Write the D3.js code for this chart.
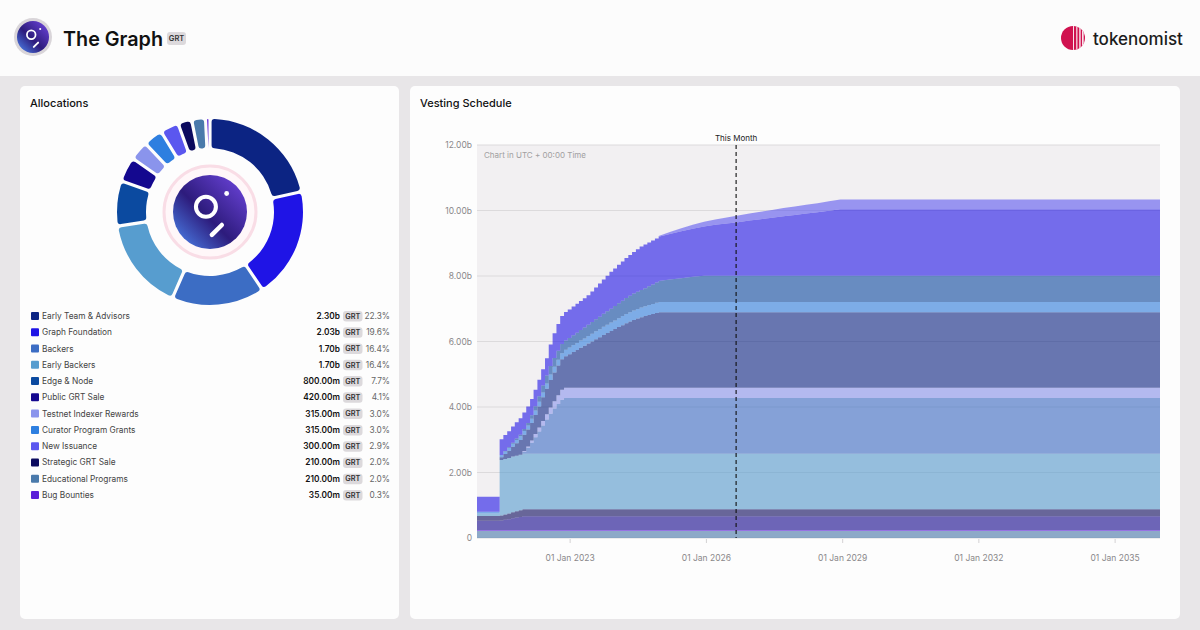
<!DOCTYPE html>
<html>
<head>
<meta charset="utf-8">
<script src="https://cdn.jsdelivr.net/npm/d3@7"></script>
<style>
  html, body { margin: 0; padding: 0; background: #e8e6e8; }
  svg { display: block; font-family: Inter, "Noto Sans", sans-serif; }
</style>
</head>
<body>
<div id="chart"></div>
<script>
// allocations (billions of GRT)
const allocNames = ["Early Team & Advisors", "Graph Foundation", "Backers", "Early Backers", "Edge & Node",
  "Public GRT Sale", "Testnet Indexer Rewards", "Curator Program Grants", "New Issuance",
  "Strategic GRT Sale", "Educational Programs", "Bug Bounties"];
const allocValues = [2.30, 2.03, 1.70, 1.70, 0.80, 0.42, 0.315, 0.315, 0.30, 0.21, 0.21, 0.035];
const allocPercents = [22.3, 19.6, 16.4, 16.4, 7.7, 4.1, 3.0, 3.0, 2.9, 2.0, 2.0, 0.3];

// vesting schedule: dates (monthly in the ramp, quarterly later) and cumulative unlocked, billions
const dates = ["2020-12-17",
  "2021-06-17", "2021-07-17", "2021-08-17", "2021-09-17", "2021-10-17", "2021-11-17", "2021-12-17",
  "2022-01-17", "2022-02-17", "2022-03-17", "2022-04-17", "2022-05-17", "2022-06-17", "2022-07-17", "2022-08-17", "2022-09-17", "2022-10-17", "2022-11-17", "2022-12-17",
  "2023-01-17", "2023-02-17", "2023-03-17", "2023-04-17", "2023-05-17", "2023-06-17", "2023-07-17", "2023-08-17", "2023-09-17", "2023-10-17", "2023-11-17", "2023-12-17",
  "2024-01-17", "2024-02-17", "2024-03-17", "2024-04-17", "2024-05-17", "2024-06-17", "2024-07-17", "2024-08-17", "2024-09-17", "2024-10-17", "2024-11-17", "2024-12-17",
  "2025-03-17", "2025-06-17", "2025-09-17", "2025-12-17", "2026-03-17", "2026-06-17", "2026-09-17", "2026-12-17",
  "2027-03-17", "2027-06-17", "2027-09-17", "2027-12-17", "2028-03-17", "2028-06-17", "2028-09-17", "2028-12-17",
  "2036-01-01"];

const educationalPrograms = [0.21,
  0.21, 0.21, 0.21, 0.21, 0.21, 0.21, 0.21,
  0.21, 0.21, 0.21, 0.21, 0.21, 0.21, 0.21, 0.21, 0.21, 0.21, 0.21, 0.21,
  0.21, 0.21, 0.21, 0.21, 0.21, 0.21, 0.21, 0.21, 0.21, 0.21, 0.21, 0.21,
  0.21, 0.21, 0.21, 0.21, 0.21, 0.21, 0.21, 0.21, 0.21, 0.21, 0.21, 0.21,
  0.21, 0.21, 0.21, 0.21, 0.21, 0.21, 0.21, 0.21, 0.21, 0.21, 0.21, 0.21, 0.21, 0.21, 0.21, 0.21,
  0.21];
const bugBounties = [0.035,
  0.035, 0.035, 0.035, 0.035, 0.035, 0.035, 0.035,
  0.035, 0.035, 0.035, 0.035, 0.035, 0.035, 0.035, 0.035, 0.035, 0.035, 0.035, 0.035,
  0.035, 0.035, 0.035, 0.035, 0.035, 0.035, 0.035, 0.035, 0.035, 0.035, 0.035, 0.035,
  0.035, 0.035, 0.035, 0.035, 0.035, 0.035, 0.035, 0.035, 0.035, 0.035, 0.035, 0.035,
  0.035, 0.035, 0.035, 0.035, 0.035, 0.035, 0.035, 0.035, 0.035, 0.035, 0.035, 0.035, 0.035, 0.035, 0.035, 0.035,
  0.035];
const publicSale = [0.285,
  0.29, 0.31, 0.33, 0.36, 0.38, 0.40, 0.42,
  0.42, 0.42, 0.42, 0.42, 0.42, 0.42, 0.42, 0.42, 0.42, 0.42, 0.42, 0.42,
  0.42, 0.42, 0.42, 0.42, 0.42, 0.42, 0.42, 0.42, 0.42, 0.42, 0.42, 0.42,
  0.42, 0.42, 0.42, 0.42, 0.42, 0.42, 0.42, 0.42, 0.42, 0.42, 0.42, 0.42,
  0.42, 0.42, 0.42, 0.42, 0.42, 0.42, 0.42, 0.42, 0.42, 0.42, 0.42, 0.42, 0.42, 0.42, 0.42, 0.42,
  0.42];
const strategicSale = [0.14,
  0.15, 0.16, 0.17, 0.18, 0.19, 0.20, 0.21,
  0.21, 0.21, 0.21, 0.21, 0.21, 0.21, 0.21, 0.21, 0.21, 0.21, 0.21, 0.21,
  0.21, 0.21, 0.21, 0.21, 0.21, 0.21, 0.21, 0.21, 0.21, 0.21, 0.21, 0.21,
  0.21, 0.21, 0.21, 0.21, 0.21, 0.21, 0.21, 0.21, 0.21, 0.21, 0.21, 0.21,
  0.21, 0.21, 0.21, 0.21, 0.21, 0.21, 0.21, 0.21, 0.21, 0.21, 0.21, 0.21, 0.21, 0.21, 0.21, 0.21,
  0.21];
const earlyBackers = [0.08,
  1.70, 1.70, 1.70, 1.70, 1.70, 1.70, 1.70,
  1.70, 1.70, 1.70, 1.70, 1.70, 1.70, 1.70, 1.70, 1.70, 1.70, 1.70, 1.70,
  1.70, 1.70, 1.70, 1.70, 1.70, 1.70, 1.70, 1.70, 1.70, 1.70, 1.70, 1.70,
  1.70, 1.70, 1.70, 1.70, 1.70, 1.70, 1.70, 1.70, 1.70, 1.70, 1.70, 1.70,
  1.70, 1.70, 1.70, 1.70, 1.70, 1.70, 1.70, 1.70, 1.70, 1.70, 1.70, 1.70, 1.70, 1.70, 1.70, 1.70,
  1.70];
const backers = [0,
  0, 0, 0, 0, 0, 0, 0.06,
  0.18, 0.33, 0.50, 0.68, 0.86, 1.04, 1.22, 1.38, 1.52, 1.65, 1.70, 1.70,
  1.70, 1.70, 1.70, 1.70, 1.70, 1.70, 1.70, 1.70, 1.70, 1.70, 1.70, 1.70,
  1.70, 1.70, 1.70, 1.70, 1.70, 1.70, 1.70, 1.70, 1.70, 1.70, 1.70, 1.70,
  1.70, 1.70, 1.70, 1.70, 1.70, 1.70, 1.70, 1.70, 1.70, 1.70, 1.70, 1.70, 1.70, 1.70, 1.70, 1.70,
  1.70];
const testnetRewards = [0,
  0, 0, 0, 0, 0, 0, 0.02,
  0.04, 0.07, 0.10, 0.12, 0.14, 0.16, 0.19, 0.22, 0.26, 0.30, 0.315, 0.315,
  0.315, 0.315, 0.315, 0.315, 0.315, 0.315, 0.315, 0.315, 0.315, 0.315, 0.315, 0.315,
  0.315, 0.315, 0.315, 0.315, 0.315, 0.315, 0.315, 0.315, 0.315, 0.315, 0.315, 0.315,
  0.315, 0.315, 0.315, 0.315, 0.315, 0.315, 0.315, 0.315, 0.315, 0.315, 0.315, 0.315, 0.315, 0.315, 0.315, 0.315,
  0.315];
const earlyTeam = [0,
  0.08, 0.15, 0.22, 0.30, 0.38, 0.45, 0.50,
  0.52, 0.54, 0.58, 0.64, 0.72, 0.78, 0.84, 0.88, 0.91, 0.93, 0.96, 1.02,
  1.09, 1.15, 1.22, 1.28, 1.35, 1.41, 1.48, 1.54, 1.61, 1.67, 1.73, 1.79,
  1.85, 1.91, 1.97, 2.02, 2.07, 2.11, 2.15, 2.19, 2.22, 2.25, 2.28, 2.30,
  2.30, 2.30, 2.30, 2.30, 2.30, 2.30, 2.30, 2.30, 2.30, 2.30, 2.30, 2.30, 2.30, 2.30, 2.30, 2.30,
  2.30];
const curatorGrants = [0.05,
  0.07, 0.08, 0.085, 0.09, 0.10, 0.11, 0.115,
  0.12, 0.13, 0.14, 0.145, 0.15, 0.16, 0.17, 0.175, 0.18, 0.19, 0.20, 0.205,
  0.21, 0.215, 0.22, 0.225, 0.23, 0.235, 0.24, 0.245, 0.25, 0.255, 0.26, 0.265,
  0.27, 0.275, 0.28, 0.284, 0.288, 0.292, 0.296, 0.30, 0.304, 0.308, 0.312, 0.315,
  0.315, 0.315, 0.315, 0.315, 0.315, 0.315, 0.315, 0.315, 0.315, 0.315, 0.315, 0.315, 0.315, 0.315, 0.315, 0.315,
  0.315];
const edgeNode = [0,
  0, 0.01, 0.02, 0.03, 0.04, 0.05, 0.06,
  0.08, 0.10, 0.13, 0.17, 0.21, 0.25, 0.26, 0.27, 0.27, 0.28, 0.28, 0.29,
  0.30, 0.31, 0.32, 0.33, 0.345, 0.36, 0.37, 0.38, 0.395, 0.41, 0.42, 0.44,
  0.455, 0.47, 0.49, 0.505, 0.515, 0.525, 0.535, 0.545, 0.57, 0.595, 0.62, 0.645,
  0.69, 0.73, 0.77, 0.80, 0.80, 0.80, 0.80, 0.80, 0.80, 0.80, 0.80, 0.80, 0.80, 0.80, 0.80, 0.80,
  0.80];
const graphFoundation = [0.46,
  0.48, 0.49, 0.49, 0.50, 0.50, 0.50, 0.50,
  0.50, 0.50, 0.50, 0.50, 0.50, 0.52, 0.65, 0.75, 0.82, 0.85, 0.87, 0.875,
  0.88, 0.885, 0.89, 0.895, 0.90, 0.935, 0.97, 1.015, 1.045, 1.085, 1.13, 1.145,
  1.175, 1.195, 1.22, 1.24, 1.267, 1.30, 1.33, 1.335, 1.34, 1.34, 1.345, 1.35,
  1.39, 1.43, 1.47, 1.51, 1.56, 1.60, 1.64, 1.69, 1.73, 1.77, 1.82, 1.86, 1.90, 1.94, 1.99, 2.03,
  2.03];
const newIssuance = [0,
  0, 0, 0, 0, 0, 0, 0,
  0, 0, 0, 0, 0, 0, 0, 0, 0, 0, 0, 0,
  0, 0, 0, 0, 0, 0, 0, 0, 0, 0, 0, 0,
  0, 0, 0, 0, 0, 0, 0, 0, 0, 0, 0, 0.02,
  0.06, 0.09, 0.12, 0.14, 0.16, 0.18, 0.20, 0.215, 0.23, 0.24, 0.25, 0.26, 0.27, 0.28, 0.29, 0.30,
  0.30];

const yTicks = [0, 2, 4, 6, 8, 10, 12];
const xTickYears = [2023, 2026, 2029, 2032, 2035];
const thisMonth = "2026-09-01";
const lastMonthlyDate = "2024-12-17"; // monthly steps up to here, smooth after

// colours and stacking order (bottom to top)
const colors = {
  "Early Team & Advisors": "#0c2483", "Graph Foundation": "#1f14e6", "Backers": "#3c6dc4",
  "Early Backers": "#579dcf", "Edge & Node": "#0b4aa0", "Public GRT Sale": "#14088f",
  "Testnet Indexer Rewards": "#8a94ec", "Curator Program Grants": "#2e7fe0", "New Issuance": "#5b57ef",
  "Strategic GRT Sale": "#0b0a5e", "Educational Programs": "#4a7aab", "Bug Bounties": "#5b1fd8"
};
const stackSeries = [
  ["Educational Programs", educationalPrograms], ["Bug Bounties", bugBounties],
  ["Public GRT Sale", publicSale], ["Strategic GRT Sale", strategicSale],
  ["Early Backers", earlyBackers], ["Backers", backers],
  ["Testnet Indexer Rewards", testnetRewards], ["Early Team & Advisors", earlyTeam],
  ["Curator Program Grants", curatorGrants], ["Edge & Node", edgeNode],
  ["Graph Foundation", graphFoundation], ["New Issuance", newIssuance]
];

// step-after curve up to cutX, straight segments after it
function stepThenLinear(cutX) {
  return function (context) {
    return {
      _t: 1,
      areaStart() { this._line = 0; },
      areaEnd() { this._line = NaN; },
      lineStart() { this._x = this._y = NaN; this._point = 0; },
      lineEnd() {
        if (this._line || (this._line !== 0 && this._point === 1)) context.closePath();
        if (this._line >= 0) { this._t = 1 - this._t; this._line = 1 - this._line; }
      },
      point(x, y) {
        x = +x; y = +y;
        if (this._point === 0) {
          this._point = 1;
          this._line ? context.lineTo(x, y) : context.moveTo(x, y);
        } else {
          this._point = 2;
          if (Math.max(this._x, x) > cutX + 0.5) {
            context.lineTo(x, y);
          } else if (this._t <= 0) {
            context.lineTo(this._x, y);
            context.lineTo(x, y);
          } else {
            context.lineTo(x, this._y);
            context.lineTo(x, y);
          }
        }
        this._x = x; this._y = y;
      }
    };
  };
}

const W = 1200, H = 630;
const svg = d3.select('#chart').append('svg').attr('width', W).attr('height', H);
const defs = svg.append('defs');

const grad = defs.append('linearGradient').attr('id', 'grtGrad')
  .attr('x1', '0').attr('y1', '1').attr('x2', '1').attr('y2', '0');
grad.append('stop').attr('offset', '0%').attr('stop-color', '#4f8cf5');
grad.append('stop').attr('offset', '45%').attr('stop-color', '#2d1b7c');
grad.append('stop').attr('offset', '100%').attr('stop-color', '#7248e4');

// background, header, panels
svg.append('rect').attr('width', W).attr('height', H).attr('fill', '#e8e6e8');
svg.append('rect').attr('width', W).attr('height', 76).attr('fill', '#fcfcfc');
svg.append('rect').attr('x', 20).attr('y', 86).attr('width', 379).attr('height', 533).attr('rx', 5).attr('fill', '#fdfdfd');
svg.append('rect').attr('x', 410).attr('y', 86).attr('width', 770).attr('height', 533).attr('rx', 5).attr('fill', '#fdfdfd');

function drawGraphLogo(g, cx, cy, r) {
  g.append('circle').attr('cx', cx).attr('cy', cy).attr('r', r).attr('fill', 'url(#grtGrad)');
  g.append('circle').attr('cx', cx - 0.11 * r).attr('cy', cy - 0.14 * r).attr('r', 0.27 * r)
    .attr('fill', 'none').attr('stroke', '#fff').attr('stroke-width', 0.11 * r);
  g.append('circle').attr('cx', cx + 0.45 * r).attr('cy', cy - 0.5 * r).attr('r', 0.065 * r).attr('fill', '#fff');
  g.append('line').attr('x1', cx + 0.05 * r).attr('y1', cy + 0.62 * r).attr('x2', cx + 0.32 * r).attr('y2', cy + 0.35 * r)
    .attr('stroke', '#fff').attr('stroke-width', 0.12 * r).attr('stroke-linecap', 'round');
}

// fit a text to a given width by adjusting its font size
function fitWidth(textSel, baseSize, width) {
  const w = textSel.node().getComputedTextLength();
  textSel.attr('font-size', baseSize * width / w);
}

// header
svg.append('circle').attr('cx', 33).attr('cy', 37).attr('r', 19).attr('fill', '#d9d5d9');
drawGraphLogo(svg.append('g'), 33, 37, 16);
const title = svg.append('text').attr('x', 63).attr('y', 46).attr('font-size', 22).attr('font-weight', 600)
  .attr('fill', '#111').text('The Graph');
fitWidth(title, 22, 100);
svg.append('rect').attr('x', 167).attr('y', 32).attr('width', 19).attr('height', 13).attr('rx', 3).attr('fill', '#dcd9dc');
svg.append('text').attr('x', 176.5).attr('y', 41.3).attr('text-anchor', 'middle').attr('font-size', 7.5).attr('font-weight', 600).attr('fill', '#333').text('GRT');

// tokenomist mark
const tk = svg.append('g');
defs.append('clipPath').attr('id', 'tkClip').append('circle').attr('cx', 1073).attr('cy', 38).attr('r', 12);
const tkc = tk.append('g').attr('clip-path', 'url(#tkClip)');
tkc.append('rect').attr('x', 1061).attr('y', 26).attr('width', 24).attr('height', 24).attr('fill', '#d0124f');
[1073, 1076.3, 1079.3, 1082.1].forEach((gx, i) => {
  tkc.append('rect').attr('x', gx).attr('y', 26).attr('width', 0.9 + i * 0.2).attr('height', 24).attr('fill', '#fcfcfc');
});
const tkText = tk.append('text').attr('x', 1093).attr('y', 45).attr('font-size', 19).attr('font-weight', 500)
  .attr('fill', '#1c1c1c').text('tokenomist');
fitWidth(tkText, 19, 90);

// panel titles
svg.append('text').attr('x', 30).attr('y', 107).attr('font-size', 11).attr('font-weight', 500).attr('fill', '#111').text('Allocations');
svg.append('text').attr('x', 420).attr('y', 107).attr('font-size', 11).attr('font-weight', 500).attr('fill', '#111').text('Vesting Schedule');

// donut
const allocData = allocNames.map((name, i) => ({ name, value: allocValues[i], pct: allocPercents[i] }));
const pie = d3.pie().sort(null).value(d => d.value).padAngle(0.028);
const arc = d3.arc().innerRadius(64).outerRadius(93).cornerRadius(3);
const donut = svg.append('g').attr('transform', 'translate(210,212)');
donut.selectAll('path').data(pie(allocData)).enter().append('path')
  .attr('d', arc).attr('fill', d => colors[d.data.name]);
donut.append('circle').attr('r', 46).attr('fill', '#fff7f9').attr('stroke', '#f9dde6').attr('stroke-width', 3);
drawGraphLogo(donut, 0, 0, 37);

// legend
const legend = svg.append('g');
const fmtAmount = v => v >= 1 ? v.toFixed(2) + 'b' : (v * 1000).toFixed(2) + 'm';
allocData.forEach((d, i) => {
  const cy = 316 + i * 16.27;
  legend.append('rect').attr('x', 31).attr('y', cy - 4).attr('width', 8).attr('height', 8).attr('rx', 1).attr('fill', colors[d.name]);
  legend.append('text').attr('x', 42).attr('y', cy + 3).attr('font-size', 8.3).attr('fill', '#444').text(d.name);
  legend.append('text').attr('x', 340).attr('y', cy + 3).attr('text-anchor', 'end').attr('font-size', 8.3)
    .attr('font-weight', 600).attr('fill', '#111').text(fmtAmount(d.value));
  legend.append('rect').attr('x', 343).attr('y', cy - 5).attr('width', 19.5).attr('height', 10.5).attr('rx', 3).attr('fill', '#dcd9dc');
  legend.append('text').attr('x', 352.75).attr('y', cy + 2.7).attr('text-anchor', 'middle').attr('font-size', 7.3)
    .attr('font-weight', 600).attr('fill', '#333').text('GRT');
  legend.append('text').attr('x', 390).attr('y', cy + 3).attr('text-anchor', 'end').attr('font-size', 8.3)
    .attr('fill', '#666').text(d.pct.toFixed(1) + '%');
});

// vesting chart
const plot = { left: 477, right: 1160, top: 145, bottom: 538 };
const parse = d3.utcParse('%Y-%m-%d');
const rows = dates.map((ds, i) => {
  const row = { date: parse(ds) };
  stackSeries.forEach(([name, vals]) => { row[name] = vals[i]; });
  return row;
});
const x = d3.scaleUtc().domain([parse('2020-12-17'), parse('2036-01-01')]).range([plot.left, plot.right]);
const y = d3.scaleLinear().domain([0, 12]).range([plot.bottom, plot.top]);

svg.append('rect').attr('x', plot.left).attr('y', plot.top).attr('width', plot.right - plot.left)
  .attr('height', plot.bottom - plot.top).attr('fill', '#f2f0f2');

svg.append('g').selectAll('line').data(yTicks).enter().append('line')
  .attr('x1', plot.left).attr('x2', plot.right).attr('y1', d => y(d)).attr('y2', d => y(d))
  .attr('stroke', '#dcdadc').attr('stroke-width', 1);

defs.append('clipPath').attr('id', 'plotClip').append('rect')
  .attr('x', plot.left).attr('y', plot.top).attr('width', plot.right - plot.left).attr('height', plot.bottom - plot.top);

const stack = d3.stack().keys(stackSeries.map(s => s[0]));
const layers = stack(rows);
const area = d3.area().curve(stepThenLinear(x(parse(lastMonthlyDate))))
  .x(d => x(d.data.date)).y0(d => y(d[0])).y1(d => y(d[1]));
svg.append('g').attr('clip-path', 'url(#plotClip)').selectAll('path').data(layers).enter().append('path')
  .attr('d', area).attr('fill', d => colors[d.key]).attr('fill-opacity', 0.6);

const yAxis = d3.axisLeft(y).tickValues(yTicks).tickSize(0).tickPadding(5)
  .tickFormat(d => d === 0 ? '0' : d.toFixed(2) + 'b');
const yg = svg.append('g').attr('transform', `translate(${plot.left},0)`).call(yAxis);
yg.select('.domain').remove();
yg.selectAll('text').attr('font-size', 8.5).attr('fill', '#8a888a').style('font-family', 'Inter, sans-serif');

const xAxis = d3.axisBottom(x).tickValues(xTickYears.map(yr => new Date(Date.UTC(yr, 0, 1))))
  .tickFormat(d3.utcFormat('%d %b %Y')).tickSize(4).tickPadding(12);
const xg = svg.append('g').attr('transform', `translate(0,${plot.bottom + 1})`).call(xAxis);
xg.select('.domain').remove();
xg.selectAll('line').attr('stroke', '#d4d2d4');
xg.selectAll('text').attr('font-size', 8.5).attr('fill', '#8a888a').style('font-family', 'Inter, sans-serif');

svg.append('text').attr('x', 484).attr('y', 157.5).attr('font-size', 8).attr('fill', '#a19fa1').text('Chart in UTC + 00:00 Time');

// this month marker
const tmX = x(parse(thisMonth));
svg.append('line').attr('x1', tmX).attr('x2', tmX).attr('y1', plot.top).attr('y2', plot.bottom)
  .attr('stroke', '#111').attr('stroke-opacity', 0.85).attr('stroke-width', 1.3).attr('stroke-dasharray', '4 3');
svg.append('text').attr('x', tmX).attr('y', 141).attr('text-anchor', 'middle').attr('font-size', 8).attr('fill', '#222').text('This Month');
</script>
</body>
</html>
